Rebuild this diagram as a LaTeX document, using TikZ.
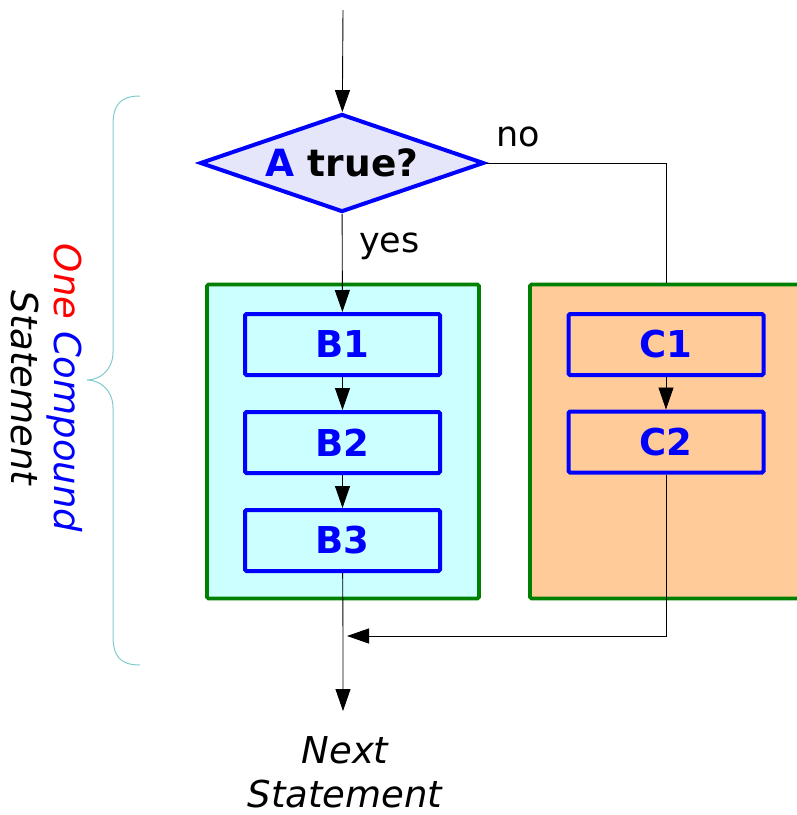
\documentclass[tikz,border=0pt]{standalone}
\usepackage{fontspec}
\setmainfont{DejaVu Sans}
\usetikzlibrary{arrows.meta,shapes.geometric}
\definecolor{flowblue}{RGB}{0,0,255}
\definecolor{flowgreen}{RGB}{0,128,0}
\definecolor{flowlav}{RGB}{230,230,250}
\definecolor{flowcyan}{RGB}{204,255,255}
\definecolor{floworange}{RGB}{255,204,153}
\definecolor{braceteal}{RGB}{128,204,204}

\begin{document}
\begin{tikzpicture}[x=1pt, y=-1pt,
  stepbox/.style={draw=flowblue, line width=4pt, rounded corners=1.5pt, minimum width=195pt, minimum height=61pt, inner sep=0pt, font=\fontsize{37}{44}\selectfont\bfseries, text=flowblue},
  blockbox/.style={draw=flowgreen, line width=3.8pt, rounded corners=1.5pt, minimum width=272pt, minimum height=314pt, inner sep=0pt},
  flowarrow/.style={-{Triangle[length=22pt, width=15pt]}, line width=0.9pt, black},
  textlabel/.style={font=\fontsize{35}{42}\selectfont, inner sep=0pt}]
\clip (0,0) rectangle (797,815);
% Blocks
\node[blockbox, fill=flowcyan] (yesblock) at (343,441.5) {};
\node[blockbox, fill=floworange] (noblock) at (666,441.5) {};
% Decision
\coordinate (start) at (343,10);
\node[diamond, aspect=2.9, draw=flowblue, line width=4pt, fill=flowlav, minimum width=284pt, minimum height=98pt, inner sep=0pt, font=\fontsize{37.5}{44}\selectfont\bfseries] (test) at (342,163) {\textcolor{flowblue}{A} true?};
% Steps
\node[stepbox, fill=flowcyan] (b1) at (342.5,344.5) {B1};
\node[stepbox, fill=flowcyan] (b2) at (342.5,442.5) {B2};
\node[stepbox, fill=flowcyan] (b3) at (342.5,540.5) {B3};
\node[stepbox, fill=floworange] (c1) at (666,344.5) {C1};
\node[stepbox, fill=floworange] (c2) at (666,442) {C2};
% Arrows
\coordinate (join) at (343,636);
\node[textlabel, font=\fontsize{37}{44}\selectfont\itshape, align=center, outer sep=26pt, anchor=north] (nextst) at (345,711) {Next\\Statement};
\draw[flowarrow] (start) -- (test);
\draw[flowarrow] (test) -- (b1);
\draw[line width=0.9pt, black] (test.east) -| (noblock.north);
\draw[flowarrow] (b1) -- (b2);
\draw[flowarrow] (b2) -- (b3);
\draw[flowarrow] (c1) -- (c2);
\draw[flowarrow] (b3) -- (join) -- (join |- nextst.north);
\draw[flowarrow, shorten >=4pt] (c2.south) |- (join);
% Labels
\node[textlabel, anchor=base west] (yeslabel) at (359,252) {yes};
\node[textlabel, anchor=base west] (nolabel) at (496,146) {no};
% Brace
\draw[braceteal, line width=1pt] (140,96) .. controls (120,96) and (113,105) .. (113,125) -- (113,352)
  .. controls (113,370) and (100,380) .. (87,380) .. controls (100,380) and (113,390) .. (113,408)
  -- (113,636) .. controls (113,656) and (120,665) .. (140,665);
\node[textlabel, font=\fontsize{37}{43}\selectfont\itshape, align=center, rotate=-90] (compound) at (47,388) {\textcolor{red}{One} \textcolor{flowblue}{Compound}\\Statement};
\end{tikzpicture}
\end{document}
